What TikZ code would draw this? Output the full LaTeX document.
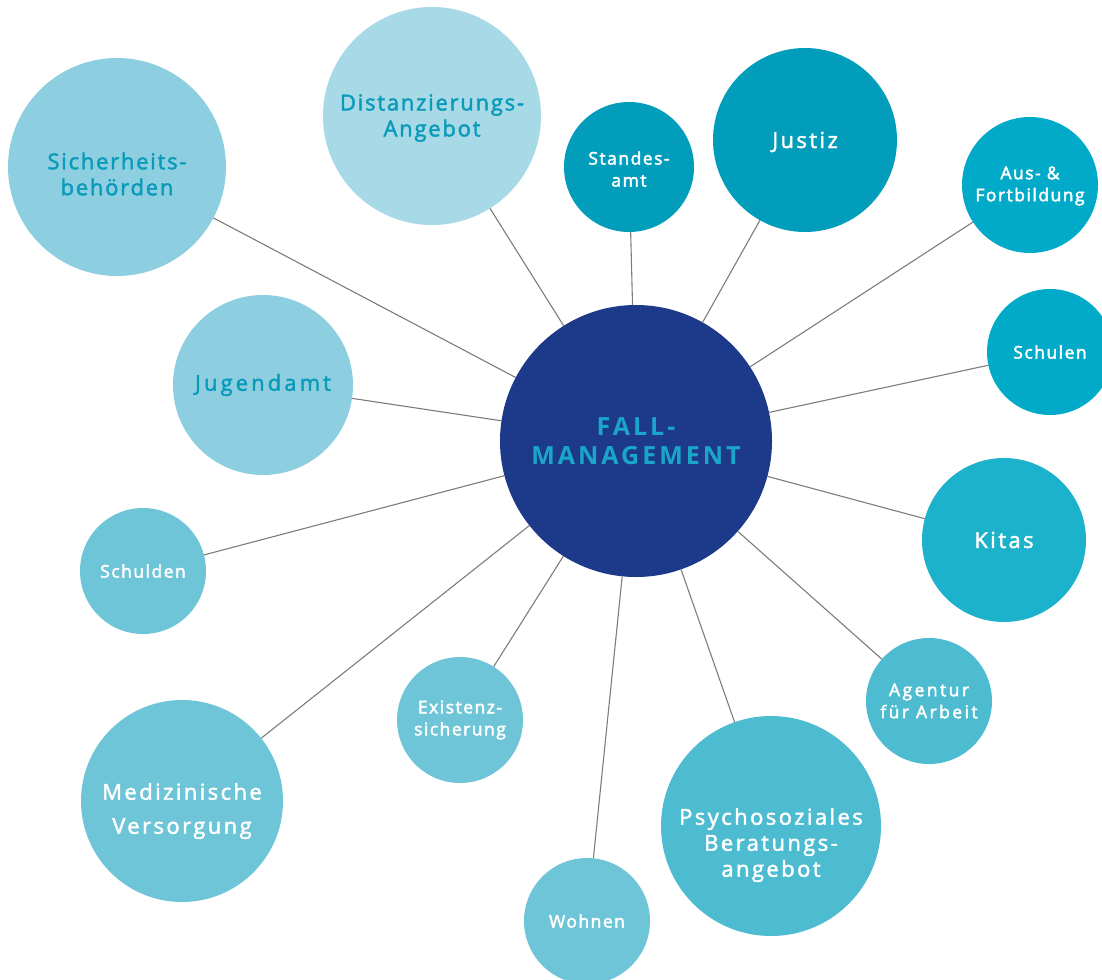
\documentclass[tikz,border=0pt]{standalone}
\usepackage{fontspec}
\setmainfont{Open Sans}[LetterSpace=8]
\newfontfamily\fontA{Open Sans}[LetterSpace=8]
\newfontfamily\fontB{Open Sans}[LetterSpace=11]
\newfontfamily\fontC{Open Sans}[LetterSpace=14]
\newfontfamily\fontS{Open Sans}[LetterSpace=8.5]
\newfontfamily\fontFM{Open Sans}[LetterSpace=12]
\newcommand\heavytext{\special{pdf:literal direct 2 Tr 0.45 w}}
\definecolor{fmblue}{HTML}{1D3A8A}
\definecolor{fmtext}{HTML}{1AA6CB}
\definecolor{tealtext}{HTML}{0A9BBA}
\definecolor{cA}{HTML}{8DCFE0}
\definecolor{cB}{HTML}{A8D9E6}
\definecolor{cC}{HTML}{019DBA}
\definecolor{cD}{HTML}{00AAC8}
\definecolor{cE}{HTML}{1DB2CB}
\definecolor{cF}{HTML}{4DBBD0}
\definecolor{cG}{HTML}{6EC5D7}
\definecolor{linegray}{HTML}{7C7C7C}
\tikzset{
  bub/.style={circle, inner sep=0pt, outer sep=0pt, draw=none},
  conn/.style={draw=linegray, line width=1.1pt},
  bigA/.style={align=center, font=\heavytext\fontA\fontsize{22}{26}\selectfont},
  bigB/.style={align=center, font=\heavytext\fontB\fontsize{22}{26}\selectfont},
  small/.style={align=center, font=\heavytext\fontS\fontsize{17.5}{22}\selectfont},
}
\begin{document}
\begin{tikzpicture}[x=1pt,y=-1pt]
\useasboundingbox (0,0) rectangle (1102,979);
\clip (0,0) rectangle (1102,979);
% circles
\node[bub, fill=fmblue, minimum size=272pt] (fm) at (636,441) {};
\node[bub, fill=cA, minimum size=218pt] (sich) at (117,167) {};
\node[bub, fill=cB, minimum size=218pt] (dist) at (432,116) {};
\node[bub, fill=cC, minimum size=130pt] (stand) at (629,167) {};
\node[bub, fill=cC, minimum size=184pt] (just) at (805,140) {};
\node[bub, fill=cD, minimum size=136pt] (aus) at (1030,185) {};
\node[bub, fill=cD, minimum size=126pt] (schul) at (1050,352) {};
\node[bub, fill=cE, minimum size=164pt] (kita) at (1004,540) {};
\node[bub, fill=cF, minimum size=126pt] (agen) at (929,701) {};
\node[bub, fill=cF, minimum size=220pt] (psy) at (771,826) {};
\node[bub, fill=cG, minimum size=126pt] (wohn) at (587,921) {};
\node[bub, fill=cG, minimum size=126pt] (exis) at (460,720) {};
\node[bub, fill=cG, minimum size=202pt] (med) at (182,801) {};
\node[bub, fill=cG, minimum size=126pt] (schd) at (143,571) {};
\node[bub, fill=cA, minimum size=180pt] (jug) at (263,385) {};
% connectors
\foreach \n in {sich,dist,stand,just,aus,schul,kita,agen,psy,wohn,exis,med,schd,jug}
  \draw[conn] (fm) -- (\n);
% labels
\node[align=center, text=fmtext, font=\fontFM\fontsize{25}{29}\selectfont\bfseries] (tfm) at (fm.center) {FALL-\\MANAGEMENT};
\node[bigA, text=tealtext] (tsich) at ([yshift=-7pt]sich.center) {Sicherheits-\\behörden};
\node[bigA, text=tealtext] (tdist) at ([yshift=-2pt]dist.center) {Distanzierungs-\\Angebot};
\node[small, text=white] (tstand) at ([yshift=-2pt]stand.center) {Standes-\\amt};
\node[bigB, text=white] (tjust) at ([yshift=-2pt]just.center) {Justiz};
\node[small, text=white] (taus) at ([yshift=-1pt]aus.center) {Aus- \&\\Fortbildung};
\node[small, text=white] (tschul) at (schul.center) {Schulen};
\node[bigB, text=white] (tkita) at (kita.center) {Kitas};
\node[small, text=white, font=\heavytext\fontC\fontsize{17.5}{22}\selectfont] (tagen) at (agen.center) {Agentur\\für Arbeit};
\node[bigB, text=white] (tpsy) at ([yshift=-19pt]psy.center) {Psychosoziales\\Beratungs-\\angebot};
\node[small, text=white] (twohn) at (wohn.center) {Wohnen};
\node[small, text=white] (texis) at (exis.center) {Existenz-\\sicherung};
\node[bigB, text=white, font=\heavytext\fontB\fontsize{22}{34}\selectfont] (tmed) at ([yshift=-10pt]med.center) {Medizinische\\Versorgung};
\node[small, text=white] (tschd) at (schd.center) {Schulden};
\node[bigB, text=tealtext, font=\heavytext\fontC\fontsize{22}{26}\selectfont] (tjug) at (jug.center) {Jugendamt};
\end{tikzpicture}
\end{document}
